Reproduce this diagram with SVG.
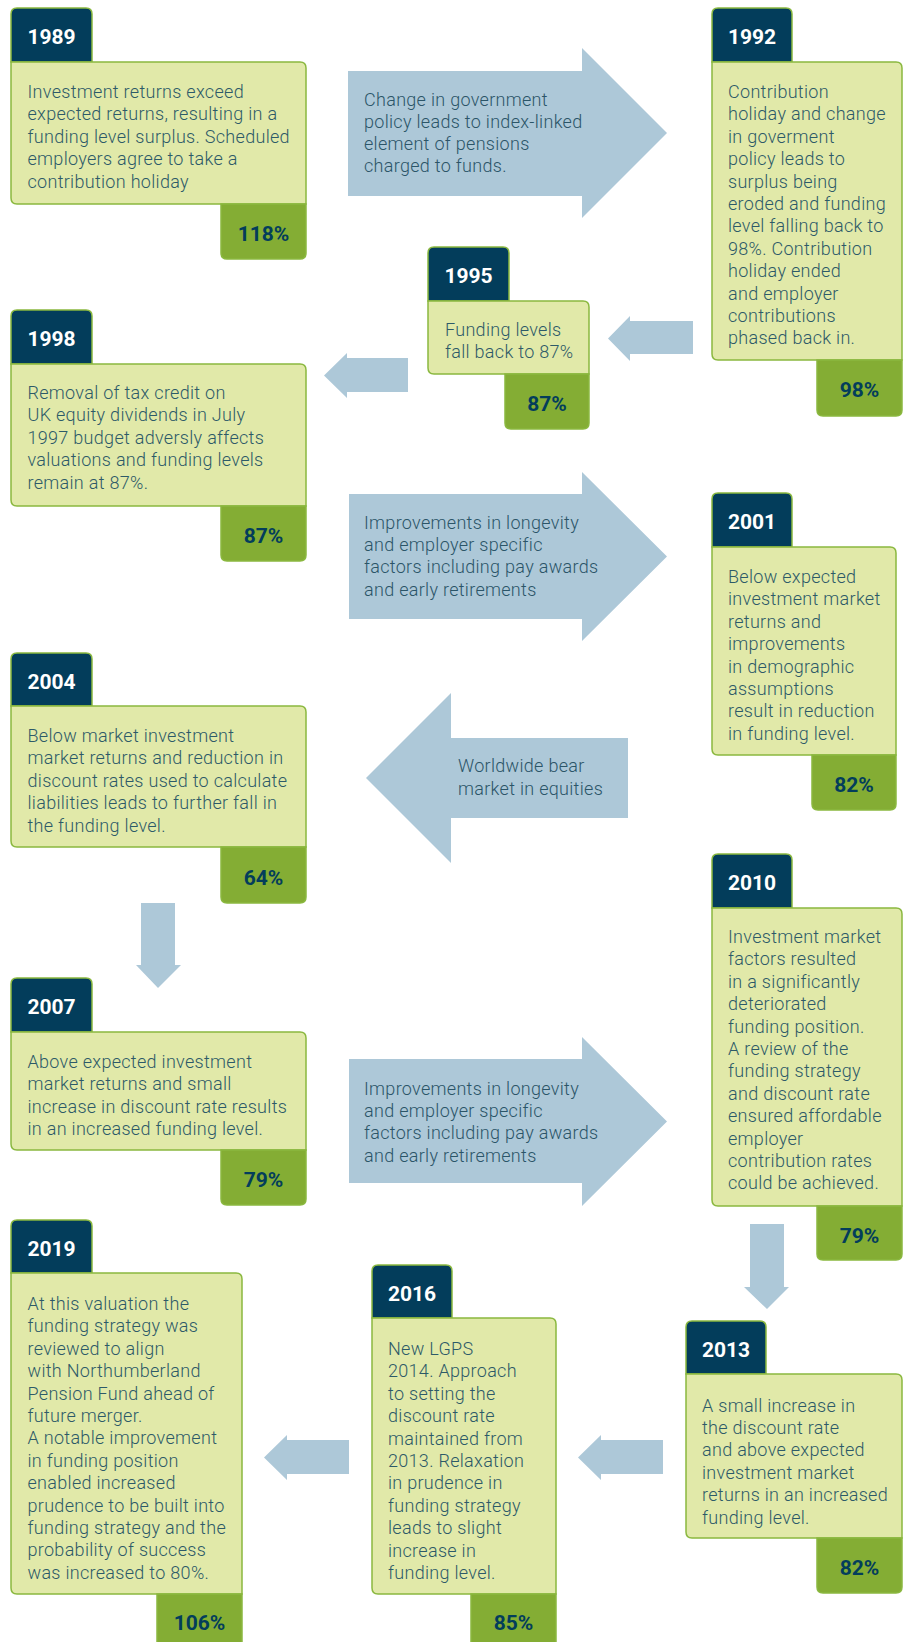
<svg xmlns="http://www.w3.org/2000/svg" width="903" height="1642" viewBox="0 0 903 1642">
<style>
.tab{fill:#033d5b;stroke:#8ab83f;stroke-width:1.5}
.body{fill:#e1e9a9;stroke:#8ab83f;stroke-width:1.5}
.pct{fill:#84ad34;stroke:#8ab83f;stroke-width:1.5}
.yr{font-family:Roboto,"Liberation Sans",sans-serif;font-weight:700;font-size:21px;fill:#ffffff;text-anchor:middle}
.pv{font-family:Roboto,"Liberation Sans",sans-serif;font-weight:700;font-size:21px;fill:#033d5b;text-anchor:middle}
.tx{font-family:Roboto,"Liberation Sans",sans-serif;font-weight:300;font-size:18px;letter-spacing:0.3px;fill:#2d5a68}
.arr{fill:#adc8d8}
.at{font-family:Roboto,"Liberation Sans",sans-serif;font-weight:300;font-size:18px;letter-spacing:0.3px;fill:#2b5568}
</style>
<g id="connectors">
<polygon class="arr" points="348,71 582,71 582,48 667,133 582,218 582,196 348,196"/>
<polygon class="arr" points="693,321 630,321 630,316 608,338.5 630,361 630,354 693,354"/>
<polygon class="arr" points="408,358 347,358 347,353 324,375.5 347,398 347,392 408,392"/>
<polygon class="arr" points="349,494 582,494 582,472 667,556.5 582,641 582,619 349,619"/>
<polygon class="arr" points="628,738 451,738 451,693 366,778 451,863 451,818 628,818"/>
<polygon class="arr" points="141,903 175,903 175,965 181,965 158,988 136,965 141,965"/>
<polygon class="arr" points="349,1059 582,1059 582,1037 667,1121.5 582,1206 582,1183 349,1183"/>
<polygon class="arr" points="750,1224 784,1224 784,1287 789,1287 767,1309 744,1287 750,1287"/>
<polygon class="arr" points="663,1440 601,1440 601,1435 578,1457.5 601,1480 601,1474 663,1474"/>
<polygon class="arr" points="349,1440 287,1440 287,1435 264,1457.5 287,1480 287,1474 349,1474"/>
<text class="at"><tspan x="364" y="106">Change in government</tspan><tspan x="364" y="128">policy leads to index-linked</tspan><tspan x="364" y="150">element of pensions</tspan><tspan x="364" y="172">charged to funds.</tspan></text>
<text class="at"><tspan x="364" y="529">Improvements in longevity</tspan><tspan x="364" y="551">and employer specific</tspan><tspan x="364" y="573">factors including pay awards</tspan><tspan x="364" y="595.5">and early retirements</tspan></text>
<text class="at"><tspan x="458" y="772">Worldwide bear</tspan><tspan x="458" y="795">market in equities</tspan></text>
<text class="at"><tspan x="364" y="1095">Improvements in longevity</tspan><tspan x="364" y="1117">and employer specific</tspan><tspan x="364" y="1139">factors including pay awards</tspan><tspan x="364" y="1161.5">and early retirements</tspan></text>
</g>
<g id="n1989">
<path class="tab" d="M11,62 V14 Q11,8 17,8 H86 Q92,8 92,14 V62 Z"/>
<path class="body" d="M11,62 H300 Q306,62 306,68 V204 H17 Q11,204 11,198 Z"/>
<path class="pct" d="M221,204 H306 V253 Q306,259 300,259 H227 Q221,259 221,253 Z"/>
<text class="yr" x="51.5" y="43.5">1989</text>
<text class="pv" x="263.5" y="241">118%</text>
<text class="tx"><tspan x="27.5" y="98">Investment returns exceed</tspan><tspan x="27.5" y="120.4">expected returns, resulting in a</tspan><tspan x="27.5" y="142.8">funding level surplus. Scheduled</tspan><tspan x="27.5" y="165.2">employers agree to take a</tspan><tspan x="27.5" y="187.6">contribution holiday</tspan></text>
</g>
<g id="n1992">
<path class="tab" d="M712,62 V14 Q712,8 718,8 H786 Q792,8 792,14 V62 Z"/>
<path class="body" d="M712,62 H896 Q902,62 902,68 V360 H718 Q712,360 712,354 Z"/>
<path class="pct" d="M817,360 H902 V410 Q902,416 896,416 H823 Q817,416 817,410 Z"/>
<text class="yr" x="752" y="44">1992</text>
<text class="pv" x="859.5" y="397">98%</text>
<text class="tx"><tspan x="728" y="98">Contribution</tspan><tspan x="728" y="120.4">holiday and change</tspan><tspan x="728" y="142.8">in goverment</tspan><tspan x="728" y="165.2">policy leads to</tspan><tspan x="728" y="187.6">surplus being</tspan><tspan x="728" y="210">eroded and funding</tspan><tspan x="728" y="232.4">level falling back to</tspan><tspan x="728" y="254.8">98%. Contribution</tspan><tspan x="728" y="277.2">holiday ended</tspan><tspan x="728" y="299.6">and employer</tspan><tspan x="728" y="322">contributions</tspan><tspan x="728" y="344.4">phased back in.</tspan></text>
</g>
<g id="n1995">
<path class="tab" d="M428,301 V253 Q428,247 434,247 H503 Q509,247 509,253 V301 Z"/>
<path class="body" d="M428,301 H583 Q589,301 589,307 V374 H434 Q428,374 428,368 Z"/>
<path class="pct" d="M505,374 H589 V423 Q589,429 583,429 H511 Q505,429 505,423 Z"/>
<text class="yr" x="468.5" y="282.5">1995</text>
<text class="pv" x="547" y="411">87%</text>
<text class="tx"><tspan x="445" y="336">Funding levels</tspan><tspan x="445" y="358.4">fall back to 87%</tspan></text>
</g>
<g id="n1998">
<path class="tab" d="M11,364 V316 Q11,310 17,310 H86 Q92,310 92,316 V364 Z"/>
<path class="body" d="M11,364 H300 Q306,364 306,370 V506 H17 Q11,506 11,500 Z"/>
<path class="pct" d="M221,506 H306 V555 Q306,561 300,561 H227 Q221,561 221,555 Z"/>
<text class="yr" x="51.5" y="345.5">1998</text>
<text class="pv" x="263.5" y="543">87%</text>
<text class="tx"><tspan x="27.5" y="399">Removal of tax credit on</tspan><tspan x="27.5" y="421.4">UK equity dividends in July</tspan><tspan x="27.5" y="443.8">1997 budget adversly affects</tspan><tspan x="27.5" y="466.2">valuations and funding levels</tspan><tspan x="27.5" y="488.6">remain at 87%.</tspan></text>
</g>
<g id="n2001">
<path class="tab" d="M712,547 V499 Q712,493 718,493 H786 Q792,493 792,499 V547 Z"/>
<path class="body" d="M712,547 H890 Q896,547 896,553 V755 H718 Q712,755 712,749 Z"/>
<path class="pct" d="M812,755 H896 V804 Q896,810 890,810 H818 Q812,810 812,804 Z"/>
<text class="yr" x="752" y="528.5">2001</text>
<text class="pv" x="854" y="792">82%</text>
<text class="tx"><tspan x="728" y="583">Below expected</tspan><tspan x="728" y="605.4">investment market</tspan><tspan x="728" y="627.8">returns and</tspan><tspan x="728" y="650.2">improvements</tspan><tspan x="728" y="672.6">in demographic</tspan><tspan x="728" y="695">assumptions</tspan><tspan x="728" y="717.4">result in reduction</tspan><tspan x="728" y="739.8">in funding level.</tspan></text>
</g>
<g id="n2004">
<path class="tab" d="M11,706 V659 Q11,653 17,653 H86 Q92,653 92,659 V706 Z"/>
<path class="body" d="M11,706 H300 Q306,706 306,712 V847 H17 Q11,847 11,841 Z"/>
<path class="pct" d="M221,847 H306 V897 Q306,903 300,903 H227 Q221,903 221,897 Z"/>
<text class="yr" x="51.5" y="688.5">2004</text>
<text class="pv" x="263.5" y="885">64%</text>
<text class="tx"><tspan x="27.5" y="742">Below market investment</tspan><tspan x="27.5" y="764.4">market returns and reduction in</tspan><tspan x="27.5" y="786.8">discount rates used to calculate</tspan><tspan x="27.5" y="809.2">liabilities leads to further fall in</tspan><tspan x="27.5" y="831.6">the funding level.</tspan></text>
</g>
<g id="n2007">
<path class="tab" d="M11,1032 V984 Q11,978 17,978 H86 Q92,978 92,984 V1032 Z"/>
<path class="body" d="M11,1032 H300 Q306,1032 306,1038 V1150 H17 Q11,1150 11,1144 Z"/>
<path class="pct" d="M221,1150 H306 V1199 Q306,1205 300,1205 H227 Q221,1205 221,1199 Z"/>
<text class="yr" x="51.5" y="1013.5">2007</text>
<text class="pv" x="263.5" y="1187">79%</text>
<text class="tx"><tspan x="27.5" y="1068">Above expected investment</tspan><tspan x="27.5" y="1090.4">market returns and small</tspan><tspan x="27.5" y="1112.8">increase in discount rate results</tspan><tspan x="27.5" y="1135.2">in an increased funding level.</tspan></text>
</g>
<g id="n2010">
<path class="tab" d="M712,908 V860 Q712,854 718,854 H786 Q792,854 792,860 V908 Z"/>
<path class="body" d="M712,908 H896 Q902,908 902,914 V1206 H718 Q712,1206 712,1200 Z"/>
<path class="pct" d="M817,1206 H902 V1254 Q902,1260 896,1260 H823 Q817,1260 817,1254 Z"/>
<text class="yr" x="752" y="889.5">2010</text>
<text class="pv" x="859.5" y="1243">79%</text>
<text class="tx"><tspan x="728" y="943">Investment market</tspan><tspan x="728" y="965.4">factors resulted</tspan><tspan x="728" y="987.8">in a significantly</tspan><tspan x="728" y="1010.2">deteriorated</tspan><tspan x="728" y="1032.6">funding position.</tspan><tspan x="728" y="1055">A review of the</tspan><tspan x="728" y="1077.4">funding strategy</tspan><tspan x="728" y="1099.8">and discount rate</tspan><tspan x="728" y="1122.2">ensured affordable</tspan><tspan x="728" y="1144.6">employer</tspan><tspan x="728" y="1167">contribution rates</tspan><tspan x="728" y="1189.4">could be achieved.</tspan></text>
</g>
<g id="n2013">
<path class="tab" d="M686,1374 V1327 Q686,1321 692,1321 H760 Q766,1321 766,1327 V1374 Z"/>
<path class="body" d="M686,1374 H896 Q902,1374 902,1380 V1538 H692 Q686,1538 686,1532 Z"/>
<path class="pct" d="M817,1538 H902 V1587 Q902,1593 896,1593 H823 Q817,1593 817,1587 Z"/>
<text class="yr" x="726" y="1357">2013</text>
<text class="pv" x="859.5" y="1575">82%</text>
<text class="tx"><tspan x="702" y="1411.5">A small increase in</tspan><tspan x="702" y="1433.9">the discount rate</tspan><tspan x="702" y="1456.3">and above expected</tspan><tspan x="702" y="1478.7">investment market</tspan><tspan x="702" y="1501.1">returns in an increased</tspan><tspan x="702" y="1523.5">funding level.</tspan></text>
</g>
<g id="n2016">
<path class="tab" d="M372,1318 V1271 Q372,1265 378,1265 H446 Q452,1265 452,1271 V1318 Z"/>
<path class="body" d="M372,1318 H550 Q556,1318 556,1324 V1594 H378 Q372,1594 372,1588 Z"/>
<path class="pct" d="M471,1594 H556 V1644 Q556,1650 550,1650 H477 Q471,1650 471,1644 Z"/>
<text class="yr" x="412" y="1301">2016</text>
<text class="pv" x="513.5" y="1630">85%</text>
<text class="tx"><tspan x="388" y="1355">New LGPS</tspan><tspan x="388" y="1377.4">2014. Approach</tspan><tspan x="388" y="1399.8">to setting the</tspan><tspan x="388" y="1422.2">discount rate</tspan><tspan x="388" y="1444.6">maintained from</tspan><tspan x="388" y="1467">2013. Relaxation</tspan><tspan x="388" y="1489.4">in prudence in</tspan><tspan x="388" y="1511.8">funding strategy</tspan><tspan x="388" y="1534.2">leads to slight</tspan><tspan x="388" y="1556.6">increase in</tspan><tspan x="388" y="1579">funding level.</tspan></text>
</g>
<g id="n2019">
<path class="tab" d="M11,1273 V1226 Q11,1220 17,1220 H86 Q92,1220 92,1226 V1273 Z"/>
<path class="body" d="M11,1273 H236 Q242,1273 242,1279 V1594 H17 Q11,1594 11,1588 Z"/>
<path class="pct" d="M157,1594 H242 V1644 Q242,1650 236,1650 H163 Q157,1650 157,1644 Z"/>
<text class="yr" x="51.5" y="1256">2019</text>
<text class="pv" x="199.5" y="1630">106%</text>
<text class="tx"><tspan x="27.5" y="1310">At this valuation the</tspan><tspan x="27.5" y="1332.4">funding strategy was</tspan><tspan x="27.5" y="1354.8">reviewed to align</tspan><tspan x="27.5" y="1377.2">with Northumberland</tspan><tspan x="27.5" y="1399.6">Pension Fund ahead of</tspan><tspan x="27.5" y="1422">future merger.</tspan><tspan x="27.5" y="1444.4">A notable improvement</tspan><tspan x="27.5" y="1466.8">in funding position</tspan><tspan x="27.5" y="1489.2">enabled increased</tspan><tspan x="27.5" y="1511.6">prudence to be built into</tspan><tspan x="27.5" y="1534">funding strategy and the</tspan><tspan x="27.5" y="1556.4">probability of success</tspan><tspan x="27.5" y="1578.8">was increased to 80%.</tspan></text>
</g>
</svg>
